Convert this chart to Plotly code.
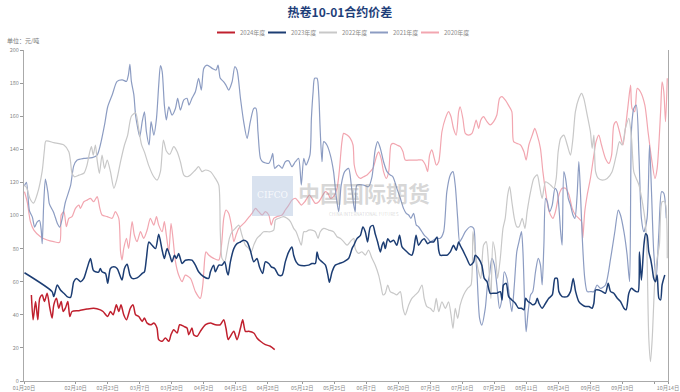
import pandas as pd
import plotly.graph_objects as go

# ---------------- data (x = days after 01-20, y = 元/吨) ----------------
base_date = "2024-01-20"

d2024 = [3.0,3.7,4.7,5.6,6.4,7.4,8.3,9.4,10.5,11.4,12.1,13.2,14.1,15.1,15.9,16.8,17.8,18.6,19.5,22.3,25.6,28.3,31.0,32.1,34.0,35.1,36.2,37.5,38.5,39.4,40.5,41.6,43.2,44.3,45.3,46.6,48.0,48.9,50.0,51.6,52.7,54.0,54.7,56.1,57.4,58.8,59.7,60.8,62.2,63.2,64.9,66.2,66.9,68.2,68.9,70.3,71.6,73.7,75.7,77.7,79.7,81.1,82.0,82.9,83.8,85.2,86.5,87.9,88.8,89.9,91.2,93.3,94.6,96.0,98.0,100.0,101.8]
v2024 = [52,37,48,37,50,52,48,53,44,38,46,50,44,48,42,44,48,39,42,42.5,43.5,44,43,42,39,42,40,46,42,46,40,37,44,46,40,39,36,38,35,34,35,32,25,24,26,24,28,31,29,34,33,32,28,32,28,27,30,34,35,34,34,37,32,25,27,30,25,32,37,30,30,29,26,24,22,21,19]

d2023 = [0.2,11.4,12.1,13.5,14.8,16.2,17.5,18.9,20.2,21.3,23.0,24.3,25.6,27.0,28.1,29.0,30.4,31.0,31.7,33.1,34.0,35.1,36.5,37.8,38.9,39.8,40.8,41.9,43.0,43.9,45.3,46.6,48.0,48.9,49.7,50.7,52.0,53.4,54.7,56.1,57.0,58.1,59.2,60.1,61.1,61.9,62.8,64.2,65.5,68.2,69.6,70.9,73.0,75.0,75.7,77.0,77.7,79.1,80.4,81.5,82.4,82.9,83.8,85.2,86.5,87.9,89.2,90.6,91.9,93.3,94.6,95.6,96.9,98.0,99.4,100.4,101.8,103.4,104.8,106.1,107.5,108.8,109.5,110.5,111.8,114.0,115.6,116.9,118.3,119.0,119.7,121.0,122.4,123.4,124.0,125.1,126.4,128.0,129.8,131.8,133.2,133.9,135.2,136.6,137.6,138.6,139.5,140.6,141.7,142.6,143.6,144.7,145.4,146.0,146.7,147.7,148.7,150.1,151.4,152.5,153.5,154.8,156.2,157.5,158.2,159.2,160.2,161.6,162.5,163.9,165.0,166.3,167.7,168.4,169.0,170.4,171.7,173.1,174.4,175.5,176.5,177.1,178.5,179.8,181.2,182.6,183.2,184.6,185.9,186.9,188.0,189.3,190.4,192.0,193.4,194.1,194.7,195.8,196.8,198.1,199.5,200.8,202.0,203.0,203.7,204.7,205.7,206.6,207.7,208.4,209.1,210.4,211.8,213.1,214.5,215.6,216.5,217.2,218.5,220.6,221.9,223.0,224.0,225.3,226.7,228.0,229.4,230.7,231.4,232.1,233.4,234.8,236.1,237.2,238.2,239.5,240.9,242.2,243.6,244.5,245.6,246.7,247.6,248.6,249.4,249.9,250.7,251.7,252.4,253.0,253.7,254.4,255.1,255.7,256.4,257.1,257.8,258.5,259.1,260.2]
v2023 = [65.4,54,51,58,55,53,51,50.5,60,62,60,62,68,74,67,66,66,68,66,65,59,68,69,68,64,61,68,70.5,64,62,62,63,65,66,74,84,82,80,88.6,79,74,80,76,72,76,74,77,71,73,73,70,66,63,62,66,70,66,70,70,72,66,64,72,80,83,84,85,84,79,72,74,69,65,72,71,69,68,64,64,72,78,81,76,72,70,69.7,70,71,71,78,74,72,70,64,59.6,66,70,71,72,74,80,82,86,88,93,90,84,93,94,89,84,78,82,84,80,86,84,85,82,88,81,79,77,76,79,88,82,85,86,83,84,84,87,79,76,76,76,78,82,79,84,82,78,74,70,72,76,74,70,62,60,53,53,53,54,49,58,59,51,49,47,44,44,43,50,48,47,46,47,50,47,44,47,50,52,62,62,54,51,51,54,62,54,48,46,45,45,44,47,55,55,54,53,59,54,53,50,48,44,43,53,56,55,54,54,78,61,82,89,88,78,74,68,62,60,64,50,49,58,64]

d2022 = [0.2,1.0,2.5,3.9,5.5,7.4,8.3,8.9,12.1,16.2,18.2,18.9,19.5,20.5,22.3,24.3,25.6,26.7,27.4,28.1,29.0,29.7,30.6,31.7,32.7,33.8,35.1,36.5,37.8,39.2,40.8,42.1,43.6,45.3,46.6,47.7,49.0,50.7,52.7,54.0,55.4,56.6,57.8,59.2,60.8,62.2,63.5,64.9,66.2,67.6,69.6,70.9,72.3,73.7,75.7,77.7,79.1,79.7,80.4,81.5,82.4,83.4,84.5,85.8,87.2,88.5,89.9,91.2,92.3,93.3,94.6,96.0,97.3,98.7,100.0,101.4,102.1,103.4,105.4,106.8,108.2,109.5,110.5,111.5,112.6,113.6,114.5,115.6,116.9,118.3,119.4,120.3,121.7,123.7,125.7,127.1,128.4,129.8,131.2,132.5,133.9,134.5,135.9,137.2,138.6,139.9,141.3,142.6,144.0,144.9,145.8,146.7,147.7,148.7,150.1,151.4,152.8,153.9,154.8,156.2,157.5,158.9,160.2,161.6,162.5,163.6,165.0,166.3,167.4,168.4,169.7,171.1,172.4,173.4,174.2,175.1,176.1,177.1,178.5,180.1,181.5,182.3,183.2,184.6,185.5,186.6,187.7,188.6,189.6,190.4,191.3,192.3,193.4,194.5,195.4,196.4,197.2,198.1,199.1,200.1,201.0,202.3,203.4,204.3,205.7,207.0,208.4,209.3,210.4,211.8,213.8,215.2,216.1,216.9,217.9,219.2,220.6,221.9,222.9,223.9,225.3,226.4,227.3,228.7,230.0,230.7,231.4,232.1,233.2,234.8,236.8,238.8,240.5,241.8,242.9,244.2,245.6,246.7,247.6,248.6,249.7,251.3,252.4,253.0,253.7,254.4,255.1,256.2,257.1,258.0,259.1,260.2,261.2]
v2022 = [118,117,110,107.5,113.5,127,139.6,145,144,142.6,138.5,132.5,125.5,123.4,124.4,125.5,130.5,138.5,141.6,136.5,142.6,133.5,125.5,136.5,128.5,133.5,126.5,116.4,122.4,132.5,142.6,148.6,160,162,152,143,138,130,123.4,121.4,126.5,145.6,139,137,141.6,138.5,132.5,124.4,123.4,124.5,127.5,129.5,126.5,127.5,126.5,122.4,118.4,90.2,74.1,72.1,78.1,86.2,90.2,92.2,94.2,88.2,82.1,80.1,78.1,82.1,86.2,88.2,90.2,90.2,90.2,91.2,97.3,98.3,99.3,98.3,96.3,92.2,90.2,86.2,82.1,90.2,90.2,91.2,91.2,90.2,86.2,90.2,92.2,91.2,90.2,87.2,86.2,84.2,82.1,84.2,86.2,80.1,77.1,78.1,76.1,79.1,74.1,70.1,64.0,58.0,52.0,53.0,58.0,54.0,53.0,52.0,54.0,43.9,39.9,45.9,49.9,52.0,54.0,58.0,49.9,44.9,43.9,41.9,49.9,41.9,47.9,43.9,47.9,39.9,31.8,43.9,37.8,45.9,52.0,56.0,58.0,90.2,78.1,66.0,62.0,82.1,84.2,72.1,49.9,84.2,78.1,62.0,74.1,92.2,98.3,112.4,117.4,108.3,98.3,93.2,93.2,98.3,92.2,102.3,114.4,122.4,124.5,118.4,110.4,120.4,118.4,116.4,122.4,138.5,146.6,148.6,142.6,136.5,146.6,162.8,170.8,173.8,170.8,160.7,150.6,140.6,148.6,126.5,122.4,121.4,122.4,126.5,136.5,144.6,142.6,152.6,158.7,146.6,126.5,122.4,118.4,106.3,94.2,74.1,25.8,11.7,25.8,62.0,74.1,82.1,108.3,108.3,74.1]

d2021 = [0.2,1.0,2.2,3.4,4.3,5.3,6.3,7.0,7.4,8.0,8.7,9.7,10.3,12.0,13.6,14.5,15.5,16.8,18.9,20.2,21.6,24.3,27.7,29.7,31.0,32.7,34.0,35.8,37.8,39.9,41.6,42.4,43.0,43.6,44.6,45.3,46.2,47.0,48.0,48.9,49.7,50.8,51.6,52.7,53.8,54.7,55.4,56.1,57.0,57.8,58.8,60.1,61.5,62.4,63.5,64.9,66.2,67.0,68.2,69.6,70.9,72.0,73.0,74.3,76.4,78.0,78.8,79.7,81.1,82.0,83.1,84.5,85.6,86.5,87.9,89.2,90.6,91.9,93.3,94.2,95.0,96.0,96.9,99.4,100.4,101.0,101.8,103.4,104.8,106.1,107.5,108.8,110.2,111.5,112.6,113.6,114.5,116.1,116.7,117.4,118.0,119.0,119.7,120.3,121.0,121.7,123.0,124.4,125.7,126.7,127.8,128.8,130.2,131.8,132.9,133.9,134.5,135.2,137.9,139.9,141.3,142.6,143.6,144.7,146.0,147.4,148.7,149.8,151.4,152.8,154.1,155.2,156.2,157.1,158.2,159.3,160.2,161.6,162.5,163.9,165.0,166.3,167.4,169.0,170.4,171.7,173.1,174.2,175.1,176.1,176.9,177.8,179.2,181.2,182.6,183.2,183.9,185.0,185.9,187.3,188.2,189.0,190.0,191.0,192.0,193.1,194.1,195.0,196.1,197.2,198.1,199.1,200.1,201.0,202.0,202.6,203.4,203.9,204.7,205.7,206.6,207.7,208.8,209.7,210.4,211.1,211.8,212.5,213.4,214.5,215.6,216.5,217.9,218.5,219.2,219.9,221.0,221.9,222.9,223.7,224.6,225.3,226.0,226.7,227.7,228.7,230.0,231.4,232.7,234.1,236.1,238.2,239.9,241.3,242.2,243.6,244.9,245.9,246.7,247.6,248.6,249.7,250.7,251.7,253.0,254.0,254.8,255.7,256.7,257.8,258.9,259.8,260.8]
v2021 = [118,120,103,99,93,96,97,91,83,107,122,114,107,102,95,93,98,108,118,130,133.5,134.5,135,136.5,142.6,154.7,165.7,172.8,181,182,181,185,191.3,181,173,160.7,152.6,147.6,156.7,162.7,150.6,142.6,156.7,148.6,158.7,178.8,190.5,187,166.7,157.7,165.7,160.7,164.7,170.8,163.7,169.8,170.8,166.7,170.8,174.8,182.9,175.8,188.9,190.9,188.9,187.9,190.9,182.9,180.8,178.8,175.8,180.8,189.9,187.9,170.8,156.7,146.6,156.7,164.7,164.7,150.6,134.5,132.5,131.5,134.5,137.5,128.5,130.5,128.5,132.5,133,129.5,132.5,134.5,118.4,134.5,130.5,136.5,158.7,174.8,182.9,182.9,172.8,150.6,132.5,144.6,142.6,136.5,126.5,112.4,102.3,118.4,126.5,128.5,118.4,106.3,102.3,118.4,118.4,117.4,123.4,139.6,144.6,140.6,132.5,126.5,124.5,123.4,116.4,110.4,104.3,101.3,100.3,98.3,101.3,94.2,93.2,90.2,88.2,86.2,84.2,85.2,86.2,86.2,90.2,114.4,124.5,126.5,118.4,98.3,84.2,86.2,90.2,93.2,92.2,80.1,66.0,37.8,33.8,43.9,58.0,64.0,74.1,70.1,58.0,43.9,49.9,66.0,62.0,49.9,41.9,58.0,78.1,84.2,90.2,78.1,41.9,29.8,41.9,52.0,54.0,66.0,74.1,70.1,58.0,82.1,110.4,108.3,102.3,106.3,116.4,114.4,90.2,82.1,126.5,122.5,110.4,106.3,100.3,98.3,112.4,132.5,112.4,86.2,62.0,54.0,54.0,54.0,58.0,56.0,58.0,74.1,90.2,103.3,100.3,90.2,76.1,60.0,152.6,164.7,166.7,136.5,98.3,90.2,98.3,142.6,114.4,78.1,62.0,90.2,114.4,113.4,98.3]

d2020 = [0.2,1.3,2.6,4.0,6.7,9.4,12.1,14.5,15.1,16.2,17.2,18.2,19.5,20.9,22.3,22.9,24.3,25.6,27.0,28.3,29.7,30.8,31.7,33.8,35.8,37.1,38.5,39.2,39.8,40.5,41.6,42.5,43.9,44.8,45.9,47.3,48.6,50.0,51.3,52.7,53.8,54.7,56.1,57.0,57.8,58.8,59.7,60.5,61.5,62.8,64.2,65.5,67.6,69.6,71.6,72.6,73.4,73.9,75.0,77.0,79.1,80.2,81.1,82.0,83.1,84.2,85.2,86.1,87.2,88.5,89.9,91.5,92.6,94.0,95.3,96.7,98.0,99.4,100.4,101.4,102.7,104.8,106.1,107.5,108.8,110.2,111.5,112.6,114.0,114.9,115.9,116.9,118.3,119.7,121.0,122.4,123.4,124.4,125.7,127.1,128.0,129.1,129.8,131.2,132.5,133.6,134.1,135.2,136.6,137.9,139.3,140.6,141.7,143.3,144.0,145.0,146.0,147.1,148.1,149.0,149.8,151.4,152.8,153.9,154.8,156.9,159.6,161.6,163.0,163.9,164.7,165.6,166.6,167.4,168.4,169.7,171.1,172.4,173.4,174.4,175.5,176.5,177.1,178.2,179.2,180.5,181.9,182.8,183.6,184.6,185.5,186.6,188.0,189.3,190.7,192.0,193.1,194.1,195.4,196.7,198.1,198.8,200.1,201.6,203.0,203.9,205.0,206.4,207.4,208.4,209.7,210.7,211.8,212.9,213.8,214.8,215.8,217.2,218.5,219.9,221.3,222.6,223.9,225.3,226.4,226.9,227.7,228.7,230.0,231.4,232.3,233.4,234.5,236.1,237.5,238.6,239.5,240.5,241.8,243.2,244.2,245.3,246.3,246.9,248.0,249.0,250.3,252.1,253.4,254.8,256.2,257.1,258.5,259.1,259.8,260.5,261.2]
v2020 = [114.4,108.3,96.3,91.2,87.2,85.2,84.2,83.8,100.3,102.3,93.2,98.3,99.3,104.3,106.3,104.3,108.3,109.3,110.4,108.3,111.4,104.3,100.3,99.3,98.3,102.3,98.3,78.1,73.1,80.1,86.2,80.1,96.3,88.2,84.2,90.2,86.2,91.2,98.3,94.2,99.3,94.2,90.2,96.3,88.2,78.1,95.3,86.2,72.1,64.0,60.0,64.0,62.0,54.0,49.9,58.0,74.1,78.1,76.1,74.1,73.1,82.1,98.3,103.3,101.3,94.2,84.2,88.2,92.2,94.2,96.3,99.3,101.3,104.3,102.3,100.3,102.3,100.3,94.2,98.3,99.3,100.3,103.3,106.3,109.3,110.4,108.3,106.3,108.3,110.4,112.4,110.4,107.3,108.3,111.4,114.4,113.4,110.4,111.4,116.4,126.5,144.6,149.6,148.6,146.6,142.6,130.5,124.5,122.4,123.4,124.5,126.5,128.5,136.5,138.5,134.5,126.5,122.4,126.5,142.6,143.6,142.6,141.6,138.5,133.5,133.5,133.5,133.5,130.5,126.5,136.5,139.6,134.5,130.5,132.5,150.6,158.7,162.8,159.7,152.6,148.6,162.8,165.7,158.7,149.6,148.6,149.6,153.6,157.7,152.6,157.7,159.7,156.7,154.7,156.7,160.7,170.8,171.8,169.8,166.7,162.8,144.6,143.6,142.6,138.5,133.5,142.6,148.6,152.6,148.6,140.6,126.5,114.4,104.3,100.3,98.3,102.3,112.4,116.4,116.4,112.4,104.3,100.3,98.3,96.3,86.2,102.3,112.4,122.4,136.5,144.6,148.6,142.6,134.5,131.5,136.5,154.7,156.7,150.6,142.6,152.6,166.7,178.8,164.7,162.8,176.8,174.8,166.7,150.6,134.5,122.4,128.5,162.8,180.8,174.8,156.7,182.9]

series_names = ["2024年度", "2023年度", "2022年度", "2021年度", "2020年度"]
series_colors = ["#c0202e", "#1c3d73", "#c8c8c8", "#8c9cc2", "#f2a6b0"]

tick_dates = ["2024-01-20", "2024-02-10", "2024-02-23", "2024-03-07", "2024-03-20",
              "2024-04-02", "2024-04-15", "2024-04-28", "2024-05-12", "2024-05-25",
              "2024-06-07", "2024-06-20", "2024-07-03", "2024-07-16", "2024-07-29",
              "2024-08-11", "2024-08-24", "2024-09-06", "2024-09-19", "2024-10-02",
              "2024-10-07 12:00"]
tick_labels = ["01月20日", "02月10日", "02月23日", "03月7日", "03月20日", "04月2日",
               "04月15日", "04月28日", "05月12日", "05月25日", "06月7日", "06月20日",
               "07月3日", "07月16日", "07月29日", "08月11日", "08月24日", "09月6日",
               "09月19日", "", "10月14日"]

# ---------------- figure ----------------
W, H = 680, 392
ML, MR, MT, MB = 24, 12, 50, 11
PW, PH = W - ML - MR, H - MT - MB

def px_x(px):  # pixel -> paper x
    return (px - ML) / PW

def px_y(py):  # pixel -> paper y
    return (H - MB - py) / PH

base = pd.Timestamp(base_date)
def to_dates(days):
    return base + pd.to_timedelta(days, unit="D")

all_days = [d2024, d2023, d2022, d2021, d2020]
all_vals = [v2024, v2023, v2022, v2021, v2020]

fig = go.Figure()
# drawing order: older years underneath, recent years on top
for i in [4, 3, 2, 1, 0]:
    fig.add_trace(go.Scatter(
        x=to_dates(all_days[i]), y=all_vals[i], mode="lines",
        name=series_names[i], showlegend=False,
        line=dict(color=series_colors[i], width=1.5 if i < 2 else 1.2,
                  shape="spline", smoothing=0.7),
        hoverinfo="skip",
    ))

font_family = "Noto Sans CJK SC, Noto Sans, sans-serif"

fig.update_layout(
    width=W, height=H,
    margin=dict(l=ML, r=MR, t=MT, b=MB, autoexpand=False),
    paper_bgcolor="white", plot_bgcolor="white",
    font=dict(family=font_family, size=7, color="#777"),
    title=dict(text="<b>热卷10-01合约价差</b>", x=0.5, xanchor="center",
               y=1 - 13 / H, yanchor="middle", yref="container",
               font=dict(size=12, color="#1f3f7a", family=font_family)),
    showlegend=False,
)

fig.update_xaxes(
    type="date", range=[tick_dates[0], tick_dates[-1]], automargin=False,
    tickmode="array", tickvals=tick_dates, ticktext=tick_labels,
    ticklabeloverflow="allow",
    ticks="outside", ticklen=2, tickcolor="#999", showline=True, linecolor="#aaa",
    linewidth=1, showgrid=False, zeroline=False,
    tickfont=dict(size=5.3, color="#888"),
)
fig.update_yaxes(
    range=[0, 200], dtick=20, ticks="outside", ticklen=3, tickcolor="#999",
    automargin=False,
    showline=True, linecolor="#aaa", linewidth=1, mirror=True,
    showgrid=False, zeroline=False, tickfont=dict(size=5.5, color="#888"),
)

# legend (compact, as in the original): short line + label per series
leg_x0 = 217
leg_step = 51
leg_y = 32.5
for i, (name, col) in enumerate(zip(series_names, series_colors)):
    x0 = leg_x0 + i * leg_step
    fig.add_shape(type="line", xref="paper", yref="paper",
                  x0=px_x(x0), x1=px_x(x0 + 18), y0=px_y(leg_y), y1=px_y(leg_y),
                  line=dict(color=col, width=2))
    fig.add_annotation(text=name, xref="paper", yref="paper", x=px_x(x0 + 21),
                       y=px_y(leg_y), xanchor="left", yanchor="middle", showarrow=False,
                       font=dict(size=6, color="#888"))

# unit label
fig.add_annotation(text="单位：元/吨", xref="paper", yref="paper", x=px_x(5), y=px_y(40),
                   xanchor="left", yanchor="middle", showarrow=False,
                   font=dict(size=6, color="#777"))

# watermark
fig.add_shape(type="rect", xref="paper", yref="paper", x0=px_x(252), x1=px_x(293),
              y0=px_y(216), y1=px_y(176), fillcolor="rgba(170,190,220,0.45)", line_width=0,
              layer="above")
fig.add_annotation(text="CIFCO", xref="paper", yref="paper", x=px_x(272), y=px_y(195),
                   showarrow=False, font=dict(size=9, color="rgba(255,255,255,0.8)",
                                              family="DejaVu Serif"))
fig.add_annotation(text="<b>中国国际期货</b>", xref="paper", yref="paper", x=px_x(364),
                   y=px_y(192), showarrow=False,
                   font=dict(size=22, color="rgba(140,140,140,0.35)"))
fig.add_annotation(text="CHINA INTERNATIONAL FUTURES", xref="paper", yref="paper",
                   x=px_x(364), y=px_y(214), showarrow=False,
                   font=dict(size=4.5, color="rgba(140,140,140,0.35)"))

fig.write_html("out.html", config={"displayModeBar": False},
               post_script="document.body.style.margin='0';document.body.style.padding='0';")
